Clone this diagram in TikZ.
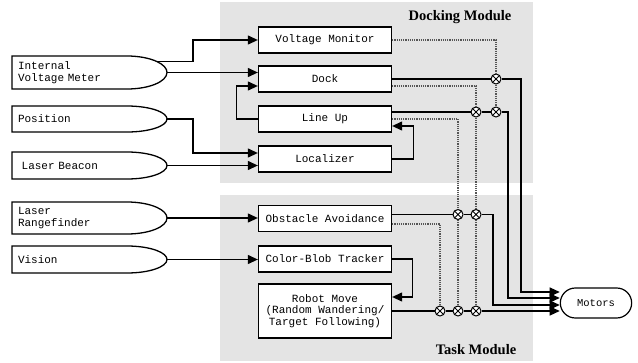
\documentclass[tikz,border=0pt]{standalone}
\usepackage{fontspec}
\setmainfont{Liberation Serif}
\setmonofont{Liberation Mono}
\usetikzlibrary{arrows.meta,calc,shapes.misc}

\definecolor{panelgray}{RGB}{228,228,228}
\definecolor{dotgray}{RGB}{85,85,85}

\tikzset{
	behaviour/.style={draw, fill=white, line width=1.3pt, minimum width=133pt,
		minimum height=26pt, inner sep=0pt, align=center,
		font=\ttfamily\fontsize{11}{11.5}\selectfont},
	sensor/.style={anchor=west, minimum width=115pt, text width=103pt,
		inner xsep=6pt, inner ysep=0pt, outer sep=0pt, align=left,
		font=\ttfamily\fontsize{11}{11.5}\selectfont},
	suppress/.style={circle, draw, fill=white, minimum size=10pt, inner sep=0pt,
		line width=1pt, path picture={
			\draw[line width=0.8pt] (path picture bounding box.north west) -- (path picture bounding box.south east)
			(path picture bounding box.north east) -- (path picture bounding box.south west);}},
	inhibit/.style={dotgray, dash pattern=on 1.2pt off 1pt, line width=1.3pt},
	title/.style={font=\bfseries\fontsize{14.5}{16}\selectfont},
}

\begin{document}
\begin{tikzpicture}[x=1pt, y=-1pt, line width=1.2pt,
		>={Triangle[length=10pt,width=9pt]}]
	\useasboundingbox (0,0) rectangle (638,362);

	% module panels
	\fill[panelgray] (220,2) rectangle (533,183);
	\fill[panelgray] (220,195) rectangle (533,361);
	\node[title] (docktitle) at (460,17) {Docking Module};
	\node[title] (tasktitle) at (476,350) {Task Module};

	% sensors
	\node[sensor, minimum height=33pt] (ivm) at (12,72.5) {Internal\\Voltage Meter};
	\node[sensor, minimum height=26pt] (pos) at (12,119) {Position};
	\node[sensor, minimum height=27pt] (lb) at (12,165.5) {\ Laser Beacon};
	\node[sensor, minimum height=32pt] (lrf) at (12,218) {Laser\\Rangefinder};
	\node[sensor, minimum height=27pt] (vis) at (12,259.5) {Vision};
	\foreach \n/\ry in {ivm/16.5, pos/13, lb/13.5, lrf/16, vis/13.5}
		\draw[line width=1.3pt] (\n.north east)
			arc[start angle=90, end angle=41.4, x radius=40pt, y radius=\ry pt] coordinate (\n-up)
			arc[start angle=41.4, end angle=0, x radius=40pt, y radius=\ry pt] coordinate (\n-tip)
			arc[start angle=0, end angle=-90, x radius=40pt, y radius=\ry pt]
			-- (\n.south west) -- (\n.north west) -- cycle;

	% behaviours
	\node[behaviour] (vm) at (325,40) {Voltage Monitor};
	\node[behaviour] (dock) at (325,79) {Dock};
	\node[behaviour] (lineup) at (325,119) {Line Up};
	\node[behaviour] (loc) at (325,159) {Localizer};
	\node[behaviour] (oa) at (325,218.5) {Obstacle Avoidance};
	\node[behaviour] (cbt) at (325,259) {Color-Blob Tracker};
	\node[behaviour, minimum height=54pt] (rm) at (325,311)
		{Robot Move\\(Random Wandering/\\Target Following)};

	\node[draw, rounded rectangle, line width=1.2pt, minimum width=78pt, minimum height=30pt,
		font=\ttfamily\fontsize{10.5}{12}\selectfont] (motors) at (596,303) {Motors};

	% suppression points
	\node[suppress] (s1) at (496,79) {};
	\node[suppress] (s2) at (476,112) {};
	\node[suppress] (s3) at (496,112) {};
	\node[suppress] (s4) at (458,214.5) {};
	\node[suppress] (s5) at (476,214.5) {};
	\node[suppress] (s6) at (440,311) {};
	\node[suppress] (s7) at (458,311) {};
	\node[suppress] (s8) at (476,311) {};

	% inputs
	\draw[->] (ivm-up) -- ++(36,0) |- (vm.west);
	\draw[->] (ivm-tip) -- (ivm-tip -| dock.west);
	\draw[->] (lineup.west) -- ++(-21,0) |- ($(dock.west)+(0,7)$);
	\draw[->] (pos-tip) -- ++(26,0) |- ($(loc.west)+(0,-6)$);
	\draw[->] (lb-tip) -- (lb-tip -| loc.west);
	\draw[->] (loc.east) -- ++(21,0) |- ($(lineup.east)+(0,7)$);
	\draw[->] (lrf-tip) -- (lrf-tip -| oa.west);
	\draw[->] (vis-tip) -- (vis-tip -| cbt.west);
	\draw[->] (cbt.east) -- ++(20,0) |- ($(rm.east)+(0,-14)$);

	% outputs
	\draw[inhibit] (vm.east) -| (s1) -- (s3);
	\draw[inhibit] ($(dock.east)+(0,7)$) -| (s2) -- (s5) -- (s8);
	\draw[inhibit] (lineup.east) -| (s4) -- (s7);
	\draw[inhibit] ($(oa.east)+(0,5.5)$) -| (s6);
	\draw[->] (dock.east) -- (s1) -- ++(25,0) |- ($(motors.west)+(0,-11)$);
	\draw[->] ($(lineup.east)+(0,-7)$) -- (s2) -- (s3) -- ++(12,0) |- ($(motors.west)+(0,-5)$);
	\draw[->] ($(oa.east)+(0,-4)$) -- (s4) -- (s5) -- ++(17,0) |- ($(motors.west)+(0,2)$);
	\draw[->] (rm.east) -- (s6) -- (s7) -- (s8) -- ($(motors.west)+(0,8)$);
\end{tikzpicture}
\end{document}
